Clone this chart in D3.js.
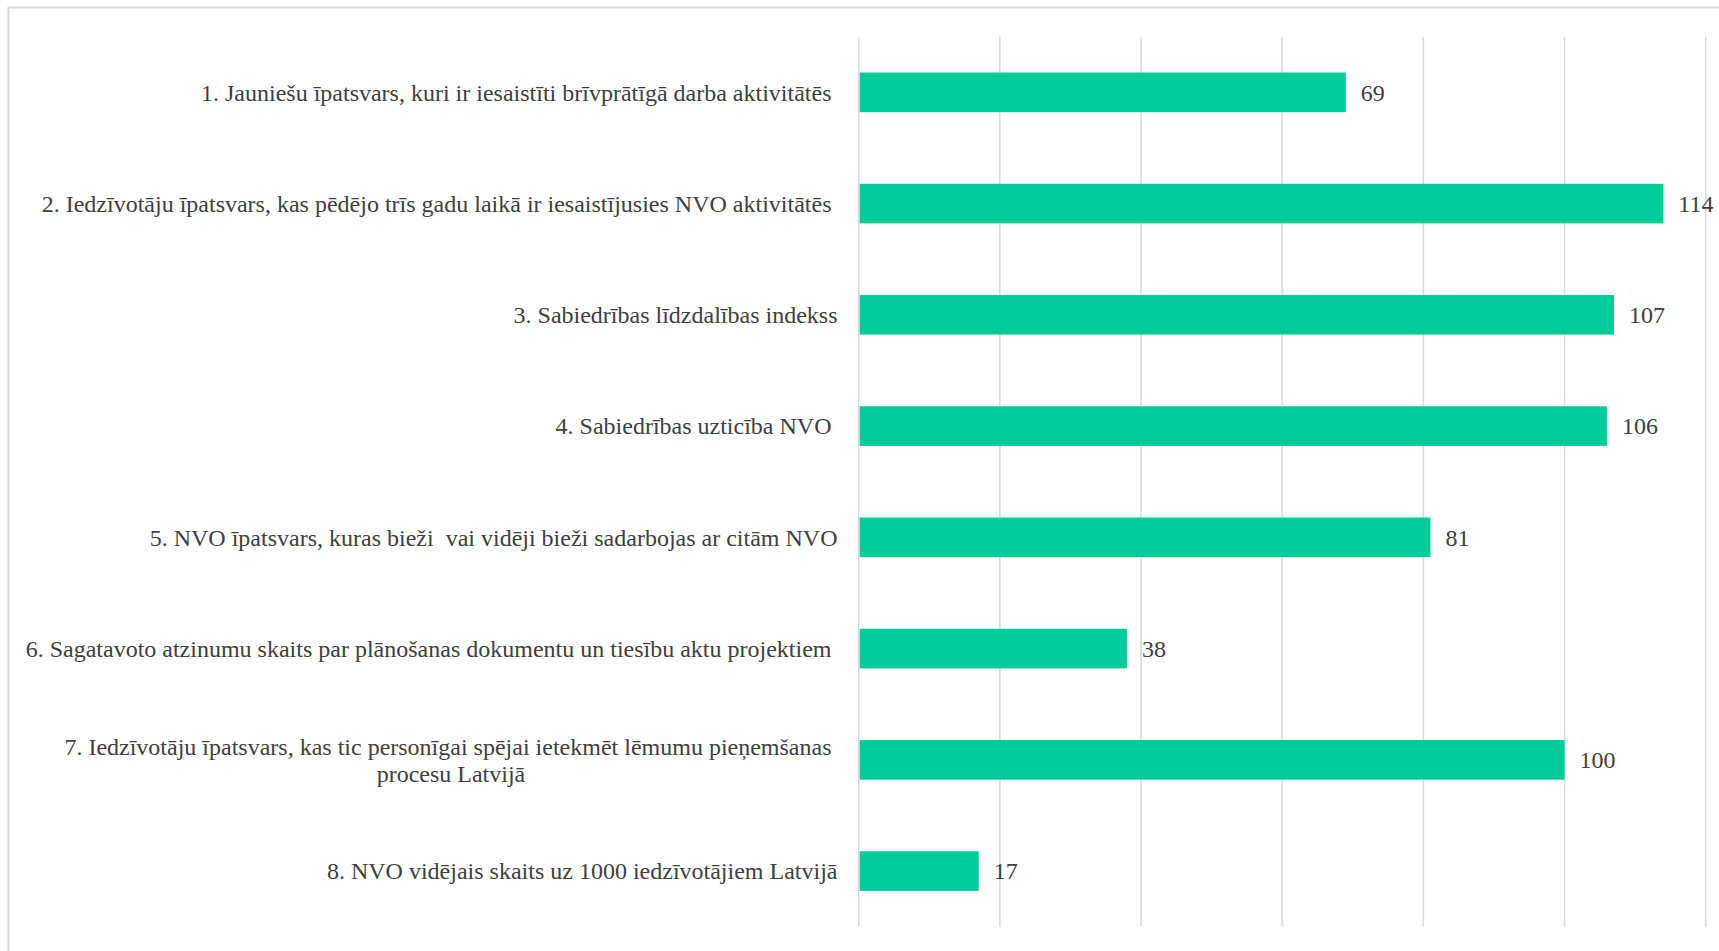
<!DOCTYPE html>
<html>
<head>
<meta charset="utf-8">
<script src="https://cdn.jsdelivr.net/npm/d3@7"></script>
<style>
  html, body { margin: 0; padding: 0; background: #ffffff; }
  svg { display: block; }
  text { font-family: "Liberation Serif", "Times New Roman", serif; white-space: pre; }
</style>
</head>
<body>
<script>
const categories = [
  "1. Jauniešu īpatsvars, kuri ir iesaistīti brīvprātīgā darba aktivitātēs ",
  "2. Iedzīvotāju īpatsvars, kas pēdējo trīs gadu laikā ir iesaistījusies NVO aktivitātēs ",
  "3. Sabiedrības līdzdalības indekss",
  "4. Sabiedrības uzticība NVO ",
  "5. NVO īpatsvars, kuras bieži  vai vidēji bieži sadarbojas ar citām NVO",
  "6. Sagatavoto atzinumu skaits par plānošanas dokumentu un tiesību aktu projektiem ",
  "7. Iedzīvotāju īpatsvars, kas tic personīgai spējai ietekmēt lēmumu pieņemšanas \nprocesu Latvijā",
  "8. NVO vidējais skaits uz 1000 iedzīvotājiem Latvijā"
];
const values = [69, 114, 107, 106, 81, 38, 100, 17];
const xTicks = [0, 20, 40, 60, 80, 100, 120];

const W = 1719, H = 951;
const x0 = 858.7, x1 = 1705.7, y0 = 36.7, y1 = 926.7;
const FS = 24;

const svg = d3.select("body").append("svg").attr("width", W).attr("height", H);

// outer border
svg.append("rect")
  .attr("x", 8.5).attr("y", 7.5)
  .attr("width", W + 20).attr("height", H + 20)
  .attr("fill", "none").attr("stroke", "#d9d9d9").attr("stroke-width", 2);

const x = d3.scaleLinear().domain([0, 120]).range([x0, x1]);
const y = d3.scaleBand().domain(categories).range([y0, y1])
  .paddingInner(0.644).paddingOuter(0.322);

// gridlines
svg.append("g").selectAll("line").data(xTicks).join("line")
  .attr("x1", d => x(d)).attr("x2", d => x(d))
  .attr("y1", y0).attr("y2", y1)
  .attr("stroke", "#d9d9d9").attr("stroke-width", 1.5);

// bars
svg.append("g").selectAll("rect").data(values).join("rect")
  .attr("x", x(0) + 1)
  .attr("y", (d, i) => y(categories[i]))
  .attr("width", d => x(d) - x(0) - 1)
  .attr("height", y.bandwidth())
  .attr("fill", "#00cc99");

// value labels
svg.append("g").selectAll("text").data(values).join("text")
  .attr("x", d => x(d) + 15)
  .attr("y", (d, i) => y(categories[i]) + y.bandwidth() / 2)
  .attr("dy", "0.35em")
  .attr("font-size", FS)
  .attr("fill", "#404040")
  .text(d => d);

// category labels
const labelRight = 837.5;
const lineH = 27.4;
const lg = svg.append("g");
categories.forEach(c => {
  const lines = c.split("\n");
  const cy = y(c) + y.bandwidth() / 2;
  const t = lg.append("text").attr("font-size", FS).attr("fill", "#404040");
  const spans = lines.map((ln, i) => t.append("tspan")
    .attr("y", cy + (i - (lines.length - 1) / 2) * lineH)
    .attr("dy", "0.35em")
    .text(ln));
  if (lines.length === 1) {
    spans[0].attr("x", labelRight).attr("text-anchor", "end");
  } else {
    const widths = spans.map(s => s.node().getComputedTextLength());
    const maxW = d3.max(widths);
    const cx = labelRight - maxW / 2;
    spans.forEach(s => s.attr("x", cx).attr("text-anchor", "middle"));
  }
});
</script>
</body>
</html>
